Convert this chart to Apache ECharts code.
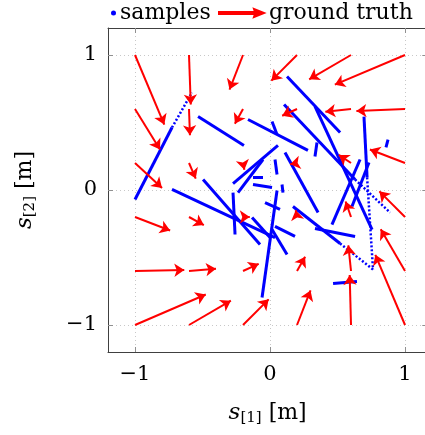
<!DOCTYPE html>
<html><head><meta charset="utf-8">
<script src="https://cdn.jsdelivr.net/npm/echarts@6/dist/echarts.min.js"></script>
<style>html,body{margin:0;padding:0;background:#fff}#c{width:425px;height:435px}</style>
</head><body><div id="c"></div>
<script>
// ---- data ----
const tickValues = [-1, 0, 1];
const gridX = [-1, -0.6, -0.2, 0.2, 0.6, 1];
const gridY = [1, 0.6, 0.2, -0.2, -0.6, -1];
// arrow components, rows follow gridY, columns follow gridX
const arrowU = [
  [0.217, 0.013, -0.10, -0.19, -0.31, -0.52],
  [0.185, 0.007, -0.06, -0.11, -0.19, -0.36],
  [0.20, 0.05, 0.01, -0.05, -0.09, -0.26],
  [0.26, 0.11, 0.05, -0.01, -0.04, -0.19],
  [0.365, 0.20, 0.116, 0.06, -0.02, -0.18],
  [0.524, 0.31, 0.19, 0.10, -0.01, -0.22]
];
const arrowV = [
  [-0.515, -0.367, -0.256, -0.19, -0.18, -0.22],
  [-0.30, -0.194, -0.11, -0.05, -0.02, -0.015],
  [-0.185, -0.115, -0.05, -0.01, 0.06, 0.10],
  [-0.10, -0.06, 0.0, 0.05, 0.115, 0.19],
  [0.007, 0.016, 0.053, 0.105, 0.19, 0.31],
  [0.226, 0.18, 0.19, 0.256, 0.37, 0.52]
];
// sample trajectories [x1, y1, x2, y2]
const sampleSolid = [
  [-1.0, -0.07, -0.726, 0.463],
  [-0.533, 0.544, -0.193, 0.33],
  [-0.163, 0.522, 0.281, 0.293],
  [0.015, 0.507, 0.052, 0.411],
  [0.126, 0.841, 0.519, 0.426],
  [0.104, 0.633, 0.63, 0.078],
  [0.333, 0.619, 0.756, -0.293],
  [0.696, 0.544, 0.719, 0.093],
  [0.874, 0.374, 0.859, 0.315],
  [0.348, 0.352, 0.333, 0.248],
  [0.059, 0.33, -0.274, 0.048],
  [-0.052, 0.226, -0.237, -0.019],
  [0.037, 0.226, 0.052, 0.115],
  [0.111, 0.278, 0.356, -0.167],
  [-0.496, 0.078, -0.074, -0.404],
  [-0.726, 0.004, 0.037, -0.352],
  [-0.274, -0.019, -0.259, -0.33],
  [0.052, -0.004, -0.059, -0.796],
  [-0.037, -0.093, 0.074, -0.144],
  [-0.133, -0.204, 0.0, -0.352],
  [0.037, -0.27, 0.185, -0.344],
  [0.015, -0.293, 0.126, -0.478],
  [0.17, -0.122, 0.519, -0.396],
  [0.333, -0.285, 0.63, -0.344],
  [0.459, -0.256, 0.667, 0.226],
  [0.607, -0.122, 0.733, 0.204],
  [0.467, -0.693, 0.644, -0.678],
  [-0.126, 0.041, 0.015, 0.019],
  [0.089, 0.041, 0.096, -0.019],
  [-0.126, 0.093, -0.052, 0.093]
];
const sampleDotted = [
  [-0.726, 0.463, -0.578, 0.722],
  [0.63, 0.078, 0.889, -0.167],
  [0.719, 0.093, 0.763, -0.589],
  [0.519, -0.396, 0.763, -0.589]
];

// ---- chart ----
const chart = echarts.init(document.getElementById('c'), null, { renderer: 'canvas' });
const FONT = 'DejaVu Serif';
const minus = v => (v < 0 ? '\u2212' + Math.abs(v) : String(v));
const arrowData = [];
gridY.forEach((y, i) => gridX.forEach((x, j) => {
  arrowData.push({ coords: [[x, y], [x + arrowU[i][j], y + arrowV[i][j]]] });
}));
const toLines = segs => segs.map(s => ({ coords: [[s[0], s[1]], [s[2], s[3]]] }));

function axisBase(extra) {
  return Object.assign({
    type: 'value', min: -1.2,
    axisLine: { show: true, onZero: false, lineStyle: { color: '#404040', width: 1 } },
    axisTick: { show: true, inside: true, length: 5, customValues: tickValues, lineStyle: { color: '#909090' } },
    axisLabel: { show: false, customValues: tickValues },
    splitLine: { show: false }
  }, extra);
}
const nameRich = {
  i: { fontStyle: 'italic', fontSize: 23, fontFamily: FONT, color: '#000' },
  sub: { fontSize: 15, fontFamily: FONT, color: '#000', padding: [10, 0, 0, 0] },
  r: { fontSize: 22, fontFamily: FONT, color: '#000' }
};
const labelStyle = { show: true, customValues: tickValues, formatter: minus, fontFamily: FONT, fontSize: 21, color: '#000' };
const gridLine = { show: true, lineStyle: { color: '#c8c8c8', type: [1, 3], width: 1 } };

const option = {
  animation: false,
  backgroundColor: '#fff',
  grid: { left: 108, top: 28, width: 319.3, height: 324, containLabel: false, outerBoundsMode: 'none' },
  legend: [
    { left: 111, top: 2, padding: 0, itemWidth: 3, itemHeight: 3, itemGap: 0, selectedMode: false,
      data: [{ name: 'samples', icon: 'circle', itemStyle: { color: '#0000ff' } }],
      textStyle: { fontFamily: FONT, fontSize: 22, color: '#000' } },
    { left: 218, top: 2, padding: 0, itemWidth: 45, itemHeight: 10, selectedMode: false,
      data: [{ name: 'ground truth', icon: 'path://M0,4L36,4L35,1L45,5L35,9L36,6L0,6Z', itemStyle: { color: '#ff0000' } }],
      textStyle: { fontFamily: FONT, fontSize: 22, color: '#000' } }
  ],
  xAxis: [
    axisBase({ max: 1.165, position: 'bottom',
      axisLabel: Object.assign({ margin: 12 }, labelStyle), splitLine: gridLine,
      name: '{i|s}{sub|[1]}{r| [m]}', nameLocation: 'middle', nameGap: 49,
      nameTextStyle: { rich: nameRich } }),
    axisBase({ max: 1.165, position: 'top' })
  ],
  yAxis: [
    axisBase({ max: 1.2, position: 'left',
      axisLabel: Object.assign({ margin: 11 }, labelStyle), splitLine: gridLine,
      name: '{i|s}{sub|[2]}{r| [m]}', nameLocation: 'middle', nameGap: 70, nameRotate: 90,
      nameTextStyle: { rich: nameRich } }),
    axisBase({ max: 1.2, position: 'right' })
  ],
  series: [
    { name: 'samples', type: 'lines', coordinateSystem: 'cartesian2d', xAxisIndex: 0, yAxisIndex: 0,
      z: 3, symbol: 'none', silent: true,
      lineStyle: { color: '#0000ff', width: 3, opacity: 1, curveness: 0 },
      data: toLines(sampleSolid) },
    { name: 'samples', type: 'lines', coordinateSystem: 'cartesian2d', xAxisIndex: 0, yAxisIndex: 0,
      z: 3, symbol: 'none', silent: true,
      lineStyle: { color: '#0000ff', width: 2.5, opacity: 1, curveness: 0, type: [2, 2] },
      data: toLines(sampleDotted) },
    { name: 'ground truth', type: 'lines', coordinateSystem: 'cartesian2d', xAxisIndex: 0, yAxisIndex: 0,
      z: 4, symbol: ['none', 'arrow'], symbolSize: 10, silent: true,
      lineStyle: { color: '#ff0000', width: 2, opacity: 1, curveness: 0 },
      data: arrowData }
  ]
};
chart.setOption(option);
</script>
</body></html>
